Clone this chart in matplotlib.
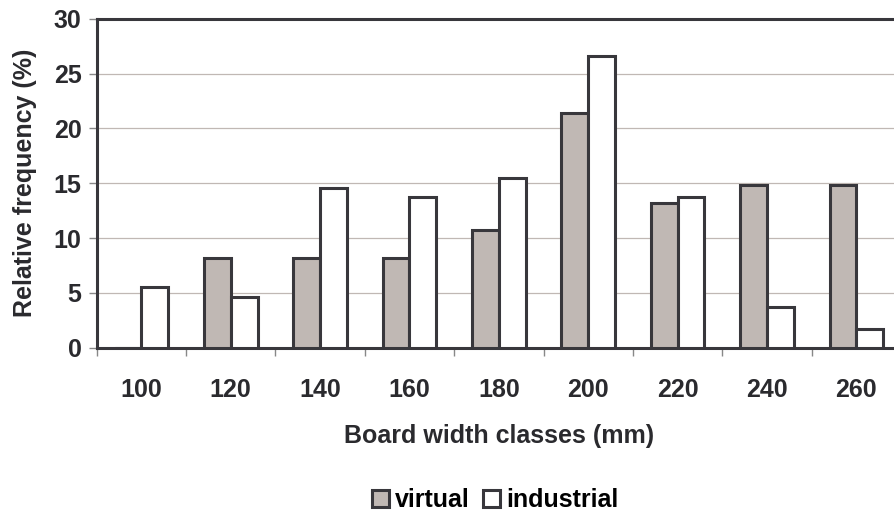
import matplotlib.pyplot as plt
import numpy as np

plt.rcParams['font.family'] = ['Liberation Sans', 'DejaVu Sans']
plt.rcParams['font.weight'] = 'bold'

# Board width classes (mm) and relative frequencies (%)
classes = ["100", "120", "140", "160", "180", "200", "220", "240", "260"]
virtual = [0.0, 8.15, 8.15, 8.15, 10.7, 21.4, 13.2, 14.8, 14.8]
industrial = [5.56, 4.65, 14.6, 13.7, 15.5, 26.6, 13.7, 3.74, 1.73]

edge = "#38373c"
grey_fill = "#c0b8b4"
txt = "#2a2a2e"
fs = 18

fig = plt.figure(figsize=(8.94, 5.11), dpi=100)
# axes run slightly past the right edge, as in the original
ax = fig.add_axes([96.7 / 894, 1 - 347.7 / 511, (901 - 96.7) / 894, (347.7 - 18.7) / 511])

x = np.arange(len(classes))
w = 0.3
ax.bar(x - w / 2, virtual, w, color=grey_fill, edgecolor=edge, linewidth=2.2,
       label="virtual", zorder=3)
ax.bar(x + w / 2, industrial, w, color="white", edgecolor=edge, linewidth=2.2,
       label="industrial", zorder=3)

ax.set_xlim(-0.5, len(classes) - 0.5)
ax.set_ylim(0, 30)
ax.set_yticks(np.arange(0, 31, 5))
ax.yaxis.grid(True, color="#c0b8b4", linewidth=0.9, zorder=0)

ax.set_xticks(x)
ax.set_xticklabels(classes, fontsize=fs, fontweight="bold", color=txt)
ax.set_xticks(np.arange(-0.5, len(classes), 1), minor=True)
ax.tick_params(axis="x", which="major", length=0, pad=22)
ax.tick_params(axis="x", which="minor", length=6, width=1, color="#888888")
ax.tick_params(axis="y", length=6, width=1, color="#888888", labelsize=fs,
               labelcolor=txt, pad=5)
for lbl in ax.get_yticklabels():
    lbl.set_fontweight("bold")

for side in ["left", "top", "bottom", "right"]:
    ax.spines[side].set_color(edge)
    ax.spines[side].set_linewidth(2.2)

ax.set_ylabel("Relative frequency (%)", fontsize=fs, fontweight="bold",
              color=txt, labelpad=12)
ax.set_xlabel("Board width classes (mm)", fontsize=fs, fontweight="bold",
              color=txt, labelpad=16)

fig.legend(loc="center", bbox_to_anchor=(495 / 894, 1 - 500 / 511), ncol=2,
           frameon=False, handlelength=0.7, handleheight=0.7,
           handletextpad=0.25, columnspacing=0.5,
           prop={"weight": "bold", "size": fs})

fig.savefig("out.png", dpi=100)
